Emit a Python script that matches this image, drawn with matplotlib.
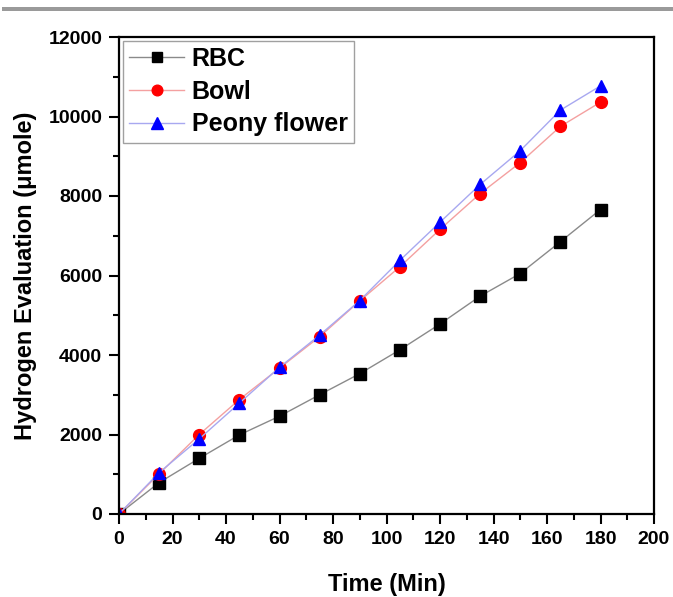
import matplotlib
matplotlib.use("Agg")
import matplotlib.pyplot as plt
from matplotlib.ticker import MultipleLocator
from matplotlib.patches import Rectangle

plt.rcParams['font.family'] = ['Liberation Sans', 'DejaVu Sans']
plt.rcParams['font.weight'] = 'bold'

# data
time_min = [0, 15, 30, 45, 60, 75, 90, 105, 120, 135, 150, 165, 180]
rbc = [0, 790, 1400, 1990, 2460, 3000, 3530, 4130, 4780, 5480, 6050, 6850, 7660]
bowl = [0, 1010, 2000, 2880, 3670, 4460, 5360, 6220, 7160, 8060, 8840, 9750, 10360]
peony = [0, 1040, 1890, 2790, 3690, 4500, 5370, 6380, 7340, 8290, 9140, 10160, 10770]
labels = ['RBC', 'Bowl', 'Peony flower']

fig = plt.figure(figsize=(6.73, 5.97), dpi=100)
# gray rule across the top
fig.add_artist(Rectangle((0.003, 1 - 10.5/597), 0.997, 4/597, transform=fig.transFigure,
                         color='#9a9a9a', lw=0))
ax = fig.add_axes([119/673, 83/597, 535/673, 477/597])

ax.plot(time_min, rbc, color='#8a8a8a', lw=1, marker='s', ms=8,
        mfc='black', mec='black', label=labels[0])
ax.plot(time_min, bowl, color='#f4a0a0', lw=1, marker='o', ms=8.5,
        mfc='red', mec='red', label=labels[1])
ax.plot(time_min, peony, color='#a8a8f0', lw=1, marker='^', ms=9,
        mfc='blue', mec='blue', label=labels[2])

ax.set_xlim(0, 200)
ax.set_ylim(0, 12000)
ax.xaxis.set_major_locator(MultipleLocator(20))
ax.xaxis.set_minor_locator(MultipleLocator(10))
ax.yaxis.set_major_locator(MultipleLocator(2000))
ax.yaxis.set_minor_locator(MultipleLocator(1000))
ax.tick_params(which='both', direction='out', top=False, right=False, width=1.5,
               labelsize=14, pad=5)
ax.tick_params(which='major', length=7)
ax.tick_params(which='minor', length=4)
for lab in ax.get_xticklabels() + ax.get_yticklabels():
    lab.set_fontweight('bold')
for sp in ax.spines.values():
    sp.set_linewidth(1.6)

ax.set_xlabel('Time (Min)', fontsize=17, fontweight='bold', labelpad=18)
ax.set_ylabel('Hydrogen Evaluation (\u03bcmole)', fontsize=17, fontweight='bold', labelpad=8)

leg = ax.legend(loc='upper left', fontsize=18, frameon=True, fancybox=False,
                edgecolor='#888888', handlelength=2.2, borderaxespad=0.15,
                labelspacing=0.35, handletextpad=0.3, borderpad=0.25, markerscale=0.9)
leg.get_frame().set_linewidth(1)
for t in leg.get_texts():
    t.set_fontweight('bold')

fig.savefig('out.png', dpi=100)
